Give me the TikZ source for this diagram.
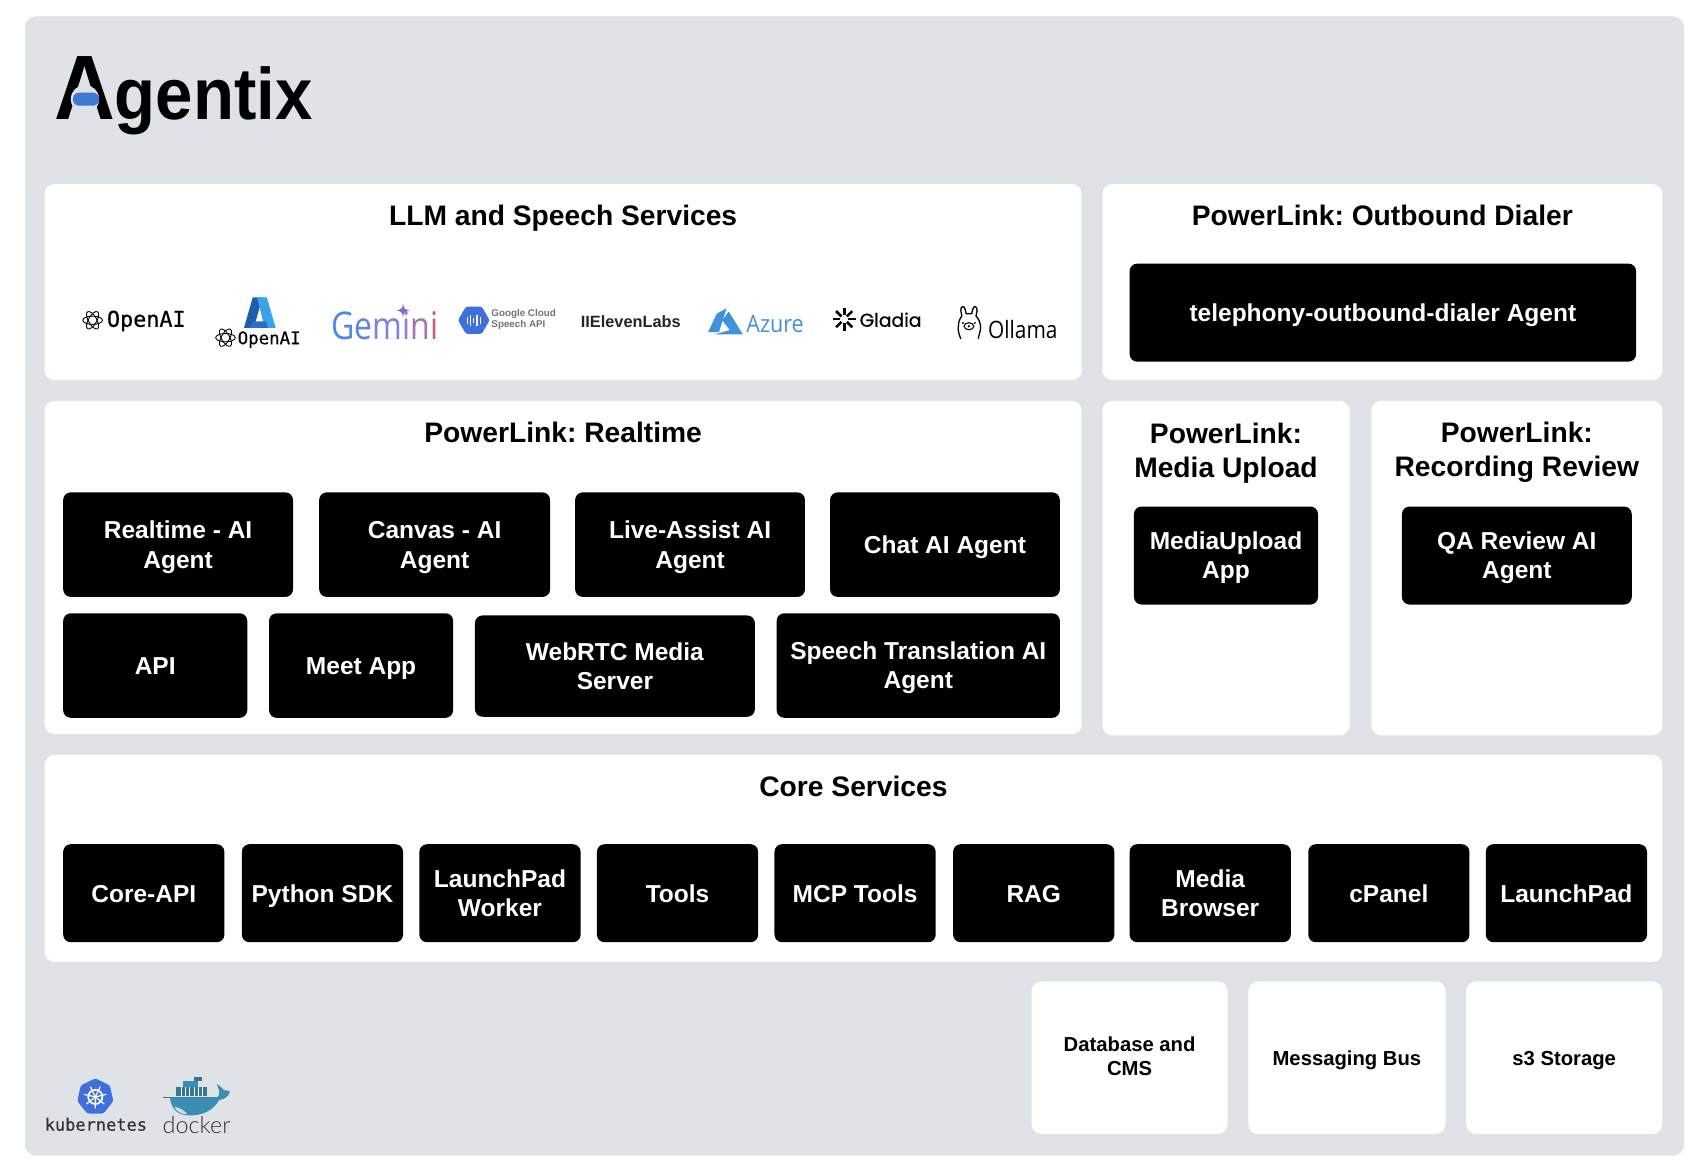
\documentclass[tikz,border=0pt]{standalone}
\usepackage{fontspec}
\setmainfont{Liberation Sans}
\newfontfamily\monofam[FakeBold=0.5]{DejaVu Sans Mono}
\newfontfamily\lightfam{Lato Light}
\newfontfamily\openfam{Open Sans}
\newfontfamily\roundfam[FakeBold=0.6]{Poppins}
\usetikzlibrary{shapes.geometric}
\definecolor{pagegrey}{HTML}{DFE2E7}
\definecolor{logoblue}{HTML}{3D7BD0}
\definecolor{azureblue}{HTML}{4192DC}
\definecolor{kubeblue}{HTML}{3F6FDD}
\definecolor{whaleblue}{HTML}{3A8DB4}
\tikzset{
    panel/.style={fill=white,rounded corners=9pt,inner sep=0pt},
    agentbox/.style={fill=black,text=white,rounded corners=7pt,inner sep=0pt,align=center,font=\fontsize{22.5}{27}\selectfont\bfseries\frenchspacing,
        execute at begin node=\rule{0pt}{22pt},execute at end node=\rule[-5.5pt]{0pt}{5.5pt}},
    agentboxtwo/.style={agentbox,execute at begin node=\rule{0pt}{48.5pt}},
    paneltitle/.style={align=center,inner sep=0pt,font=\fontsize{25.9}{31}\selectfont\bfseries\frenchspacing,
        execute at begin node=\rule{0pt}{24.6pt},execute at end node=\rule[-6pt]{0pt}{6pt}},
    paneltitletwo/.style={paneltitle,execute at begin node=\rule{0pt}{55.5pt}},
    storelabel/.style={align=center,inner sep=0pt,font=\fontsize{18.6}{22}\selectfont\bfseries\frenchspacing,
        execute at begin node=\rule{0pt}{17.8pt},execute at end node=\rule[-4.2pt]{0pt}{4.2pt}},
    storelabeltwo/.style={storelabel,execute at begin node=\rule{0pt}{39.5pt}},
    logotext/.style={inner sep=0pt,anchor=base west},
    aiknot/.pic={
        \foreach \a in {0,60,120}{
            \draw[line width=0.8pt] (0,0) ellipse[x radius=1,y radius=0.42,rotate=\a];
        }
    }
}
\begin{document}
\begin{tikzpicture}[x=1pt,y=-1pt]
            \useasboundingbox (0,0) rectangle (1568,1078);
            \fill[pagegrey,rounded corners=10pt] (23,15) rectangle (1546,1061);

            \node[inner sep=0pt,anchor=base west,xscale=0.92,transform shape] (brand) at (49.5,110) {{\fontsize{84}{84}\selectfont\bfseries A}{\fontsize{67}{67}\selectfont\bfseries gentix}};
            \fill[pagegrey] (78,91) circle(13);
            \fill[logoblue,rounded corners=5.5pt] (67,85) rectangle (91,97);

            \node[panel,minimum width=952pt,minimum height=180pt] (llmpanel) at (517,259) {};
            \node[panel,minimum width=514pt,minimum height=180pt] (dialerpanel) at (1269,259) {};
            \node[panel,minimum width=952pt,minimum height=306pt] (realtimepanel) at (517,521) {};
            \node[panel,minimum width=227pt,minimum height=307pt] (uploadpanel) at (1125.5,521.5) {};
            \node[panel,minimum width=267pt,minimum height=307pt] (reviewpanel) at (1392.5,521.5) {};
            \node[panel,minimum width=1485pt,minimum height=190pt] (corepanel) at (783.5,788) {};
            \node[panel,minimum width=180pt,minimum height=140pt] (dbpanel) at (1037,971) {};
            \node[panel,minimum width=181pt,minimum height=140pt] (buspanel) at (1236.5,971) {};
            \node[panel,minimum width=180pt,minimum height=140pt] (s3panel) at (1436,971) {};

            \node[paneltitle] (llmtitle) at (517,198) {LLM and Speech Services};
            \node[paneltitle] (dialertitle) at (1269,198) {PowerLink: Outbound Dialer};
            \node[paneltitle] (realtimetitle) at (517,397) {PowerLink: Realtime};
            \node[paneltitletwo] (uploadtitle) at (1125.5,413.5) {PowerLink:\\Media Upload};
            \node[paneltitletwo] (reviewtitle) at (1392.5,412.5) {PowerLink:\\Recording Review};
            \node[paneltitle] (coretitle) at (783.5,722) {Core Services};

            \node[agentbox,minimum width=465pt,minimum height=90pt] (dialer) at (1269.5,287) {telephony-outbound-dialer Agent};
            \node[agentboxtwo,minimum width=211pt,minimum height=96pt] (realtime) at (163.5,500) {Realtime - AI\\Agent};
            \node[agentboxtwo,minimum width=212pt,minimum height=96pt] (canvas) at (399,500) {Canvas - AI\\Agent};
            \node[agentboxtwo,minimum width=211pt,minimum height=96pt] (liveassist) at (633.5,500) {Live-Assist AI\\Agent};
            \node[agentbox,minimum width=211pt,minimum height=96pt] (chat) at (867.5,500) {Chat AI Agent};
            \node[agentbox,minimum width=169pt,minimum height=96pt] (api) at (142.5,611) {API};
            \node[agentbox,minimum width=169pt,minimum height=96pt] (meet) at (331.5,611) {Meet App};
            \node[agentboxtwo,minimum width=257pt,minimum height=93pt] (webrtc) at (564.5,611.5) {WebRTC Media\\Server};
            \node[agentboxtwo,minimum width=260pt,minimum height=96pt] (translation) at (843,611) {Speech Translation AI\\Agent};
            \node[agentboxtwo,minimum width=169pt,minimum height=90pt] (mediaupload) at (1125.5,510) {MediaUpload\\App};
            \node[agentboxtwo,minimum width=211pt,minimum height=90pt] (qareview) at (1392.5,510) {QA Review AI\\Agent};

            \node[agentbox,minimum width=148pt,minimum height=90pt] (coreapi) at (132,820) {Core-API};
            \node[agentbox,minimum width=148pt,minimum height=90pt] (pysdk) at (296,820) {Python SDK};
            \node[agentboxtwo,minimum width=148pt,minimum height=90pt] (lpworker) at (459,820) {LaunchPad\\Worker};
            \node[agentbox,minimum width=148pt,minimum height=90pt] (tools) at (622,820) {Tools};
            \node[agentbox,minimum width=148pt,minimum height=90pt] (mcptools) at (785,820) {MCP Tools};
            \node[agentbox,minimum width=148pt,minimum height=90pt] (rag) at (949,820) {RAG};
            \node[agentboxtwo,minimum width=148pt,minimum height=90pt] (browser) at (1111,820) {Media\\Browser};
            \node[agentbox,minimum width=148pt,minimum height=90pt] (cpanel) at (1275,820) {cPanel};
            \node[agentbox,minimum width=148pt,minimum height=90pt] (launchpad) at (1438,820) {LaunchPad};

            \node[storelabeltwo] (dblabel) at (1037,970) {Database and\\CMS};
            \node[storelabel] (buslabel) at (1236.5,971) {Messaging Bus};
            \node[storelabel] (s3label) at (1436,971) {s3 Storage};

            \pic[scale=9] at (85,294) {aiknot};
            \node[logotext] (openai) at (98,300) {\fontsize{20}{20}\monofam OpenAI};

            \fill[color={rgb,255:red,31;green,93;blue,172}] (232,273) -- (241,273) -- (233,301) -- (224,301) -- cycle;
            \fill[color={rgb,255:red,56;green,163;blue,232}] (236,273) -- (245,273) -- (253,301) -- (243,301) -- cycle;
            \fill[color={rgb,255:red,43;green,111;blue,196}] (232,295) -- (244,295) -- (246,301) -- (229,301) -- cycle;
            \pic[scale=9] at (207,310) {aiknot};
            \node[logotext] (azureopenai) at (218,316) {\fontsize{16}{16}\monofam OpenAI};

            \node[logotext,xscale=0.84,transform shape] (gemini) at (304,312) {\fontsize{35}{35}\openfam\textcolor[HTML]{4F86E8}{G}\textcolor[HTML]{5B84E4}{e}\textcolor[HTML]{7C83D8}{m}\textcolor[HTML]{9A7CC8}{i}\textcolor[HTML]{A870AE}{n}\textcolor[HTML]{B8608A}{i}};
            \fill[color={rgb,255:red,125;green,110;blue,205}] (370,278) .. controls (370.5,283) and (371,284) .. (376,285) .. controls (371,286) and (370.5,287) .. (370,292) .. controls (369.5,287) and (369,286) .. (364,285) .. controls (369,284) and (369.5,283) .. (370,278) -- cycle;

            \node[regular polygon,regular polygon sides=6,fill=kubeblue,minimum size=29pt,inner sep=0pt,rounded corners=2pt] (speechhex) at (435,294) {};
            \foreach \x/\h in {-6/3,-3/5,0/2.5,3/5,6/3}{
                \draw[white,line width=1.2pt] (435+\x,294-\h) -- (435+\x,294+\h);
            }
            \node[inner sep=0pt,align=left,anchor=west,text=black!55,font=\fontsize{9}{10}\selectfont\bfseries] (speechapi) at (451,293.5) {Google Cloud\\Speech API};

            \node[logotext,text=black!85] (elevenlabs) at (533,301) {\fontsize{15}{15}\selectfont\bfseries IIElevenLabs};

            \fill[azureblue] (667,283) -- (658,288) -- (650,305) -- (660,305) -- cycle;
            \fill[azureblue] (669,286) -- (682,307) -- (656,307) -- (670,303) -- (663,294) -- cycle;
            \node[logotext,text=azureblue,xscale=0.9,transform shape] (azure) at (685,305) {\fontsize{22}{22}\openfam Azure};

            \foreach \a in {0,45,...,315}{
                \draw[line width=2.4pt] (775,293) ++(\a:3.5) -- ++(\a:7);
            }
            \node[logotext] (gladia) at (789,300) {\fontsize{17.2}{17.2}\roundfam Gladia};

            \draw[line width=1.2pt] (882,311) .. controls (880,306) and (879,302) .. (880,298) .. controls (880,294) and (882,292) .. (883,290) -- (882,285) .. controls (882,281) and (885,280) .. (886,284) -- (887,288) -- (892,288) -- (893,284) .. controls (894,280) and (897,281) .. (897,285) -- (896,290) .. controls (898,293) and (900,295) .. (900,298) .. controls (901,302) and (899,306) .. (898,311);
            \draw[line width=1pt] (889.5,299.5) ellipse[x radius=4.5,y radius=3.2];
            \fill (889.5,299.5) circle(1.2) (884,296.5) circle(1) (895,296.5) circle(1);
            \node[logotext,xscale=0.87,transform shape] (ollama) at (907,311) {\fontsize{22}{22}\openfam Ollama};

            \node[regular polygon,regular polygon sides=7,fill=kubeblue,minimum size=34pt,inner sep=0pt,rounded corners=2pt] (kubehept) at (87.5,1007) {};
            \draw[white,line width=1.6pt] (87.5,1007) circle(6.5);
            \foreach \a in {0,51.4,...,360}{
                \draw[white,line width=1.1pt] (87.5,1007) -- ++(\a+90:10.5);
            }
            \node[anchor=base,inner sep=0pt,text=black!80,font=\fontsize{15.6}{15.6}\monofam] (kubernetes) at (88,1038) {kubernetes};

            \fill[whaleblue!85!black] (162,998) rectangle (190,1006);
            \fill[whaleblue] (168,992.5) rectangle (182,998);
            \fill[whaleblue!85!black] (178,989) rectangle (185,992.5);
            \foreach \x in {166,170,...,186}{
                \draw[white,line width=0.3pt] (\x,998) -- (\x,1006);
            }
            \draw[black!60,line width=0.5pt] (150,1007) -- (200,1007);
            \fill[whaleblue] (156,1007.5) -- (199,1007.5) .. controls (203,1006) and (201,1000) .. (199,995) .. controls (202,997) and (205,1000) .. (206,1001) .. controls (208,1001) and (210,1001) .. (211,1002) .. controls (210,1007) and (206,1009) .. (201,1010) .. controls (196,1019) and (187,1024) .. (174,1024) .. controls (162,1024) and (157,1017) .. (156,1007.5) -- cycle;
            \fill[white!75!whaleblue] (160,1016) .. controls (164,1017) and (168,1018) .. (172,1023) .. controls (166,1023) and (162,1020) .. (160,1016) -- cycle;
            \node[anchor=base,inner sep=0pt,text=black!80,font=\fontsize{21.5}{21.5}\lightfam] (docker) at (180.5,1041) {docker};
        \end{tikzpicture}
\end{document}
